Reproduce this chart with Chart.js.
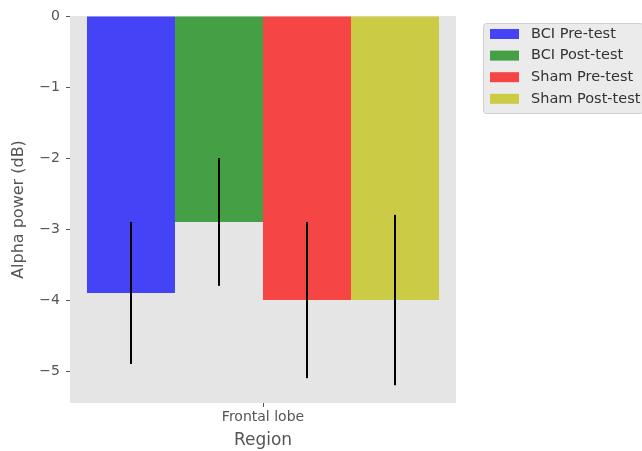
<!DOCTYPE html>
<html>
<head>
<meta charset="utf-8">
<script src="https://cdn.jsdelivr.net/npm/chart.js"></script>
<style>
  html, body { margin: 0; padding: 0; background: #fff; }
  #wrap { width: 642px; height: 451px; }
</style>
</head>
<body>
<div id="wrap"><canvas id="alphaChart" width="642" height="451"></canvas></div>
<script>
const regions = ["Frontal lobe"];
const groups = ["BCI Pre-test", "BCI Post-test", "Sham Pre-test", "Sham Post-test"];
const means = [-3.9, -2.9, -4.0, -4.0];
const errors = [1.0, 0.9, 1.1, 1.2];
const colors = ["#4444f6", "#45a045", "#f64545", "#cbcb45"];
const yTicks = [0, -1, -2, -3, -4, -5];

const font = "'DejaVu Sans', sans-serif";

// grey panel behind the bars
const panelBg = {
  id: "panelBg",
  beforeDatasetsDraw(chart) {
    const a = chart.chartArea, ctx = chart.ctx;
    ctx.save();
    ctx.fillStyle = "#e5e5e5";
    ctx.fillRect(a.left, a.top, a.right - a.left, a.bottom - a.top);
    ctx.restore();
  }
};

// vertical error bars, no caps
const errorBars = {
  id: "errorBars",
  afterDatasetsDraw(chart) {
    const ctx = chart.ctx, y = chart.scales.y;
    ctx.save();
    ctx.strokeStyle = "#000";
    ctx.lineWidth = 2;
    chart.data.datasets.forEach((ds, i) => {
      const bar = chart.getDatasetMeta(i).data[0];
      const v = ds.data[0];
      ctx.beginPath();
      ctx.moveTo(bar.x, y.getPixelForValue(v + errors[i]));
      ctx.lineTo(bar.x, y.getPixelForValue(v - errors[i]));
      ctx.stroke();
    });
    ctx.restore();
  }
};

// legend box on the right
const sideLegend = {
  id: "sideLegend",
  afterDraw(chart) {
    const ctx = chart.ctx;
    const x0 = 483, y0 = 23, w = 160, h = 90;
    ctx.save();
    ctx.fillStyle = "#ebebeb";
    ctx.strokeStyle = "#d0d0d0";
    ctx.lineWidth = 1;
    ctx.beginPath();
    ctx.roundRect(x0 + 0.5, y0 + 0.5, w, h, 3);
    ctx.fill();
    ctx.stroke();
    ctx.font = "14.5px " + font;
    ctx.textBaseline = "middle";
    groups.forEach((g, i) => {
      const cy = 34 + i * 21.6;
      ctx.fillStyle = colors[i];
      ctx.fillRect(490, cy - 5, 29, 10);
      ctx.fillStyle = "#333";
      ctx.fillText(g, 531, cy);
    });
    ctx.restore();
  }
};

new Chart(document.getElementById("alphaChart"), {
  type: "bar",
  data: {
    labels: regions,
    datasets: groups.map((g, i) => ({
      label: g,
      data: [means[i]],
      backgroundColor: colors[i],
      borderWidth: 0,
      categoryPercentage: 0.912,
      barPercentage: 1.0
    }))
  },
  options: {
    responsive: false,
    animation: false,
    layout: { padding: { top: 16, right: 186, left: 0, bottom: 0 } },
    plugins: {
      legend: { display: false },
      tooltip: { enabled: false }
    },
    scales: {
      x: {
        afterFit(s) { s.height = 48; },
        border: { display: false },
        grid: { offset: false, drawOnChartArea: false, drawTicks: true, tickLength: 4, color: "#555" },
        ticks: { color: "#555", font: { family: font, size: 14 }, padding: 2 },
        title: { display: true, text: "Region", color: "#555", font: { family: font, size: 17 }, padding: { top: 0, bottom: 0 } }
      },
      y: {
        min: -5.45,
        max: 0,
        afterFit(s) { s.width = 70; },
        afterBuildTicks(s) { s.ticks = yTicks.map(v => ({ value: v })); },
        border: { display: false },
        grid: { drawOnChartArea: false, drawTicks: true, tickLength: 4, color: "#555" },
        ticks: {
          color: "#555",
          font: { family: font, size: 14 },
          padding: 6,
          callback: v => (v < 0 ? "\u2212" + Math.abs(v) : String(v))
        },
        title: { display: true, text: "Alpha power (dB)", color: "#555", font: { family: font, size: 16 }, padding: { top: 9, bottom: 0 } }
      }
    }
  },
  plugins: [panelBg, errorBars, sideLegend]
});
</script>
</body>
</html>
